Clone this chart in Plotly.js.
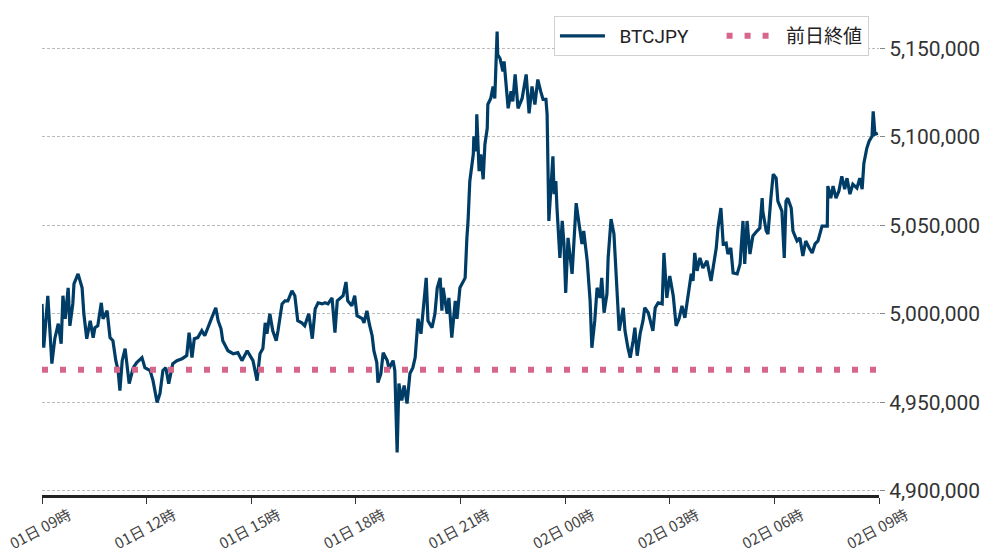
<!DOCTYPE html>
<html>
<head>
<meta charset="utf-8">
<script src="https://cdn.plot.ly/plotly-3.0.1.min.js"></script>
<style>
html,body{margin:0;padding:0;background:#fff;}
#chart{width:991px;height:558px;}
</style>
</head>
<body>
<div id="chart"></div>
<script>
// minutes elapsed since 01日 09:00
const minutes = [
0,3,10,17,22,28,33,36,40,45,48,53,55,62,69,72,77,83,88,91,96,102,105,112,117,122,127,131,134,138,143,150,157,163,172,177,186,191,198,203,208,213,218,225,232,241,249,253,258,262,268,275,280,286,292,299,303,308,311,320,329,337,344,353,360,363,370,373,
375,380,384,387,392,397,403,406,413,418,423,430,435,440,447,452,459,465,470,475,482,487,492,499,504,508,514,518,523,526,533,538,542,551,554,559,563,568,571,576,578,583,587,594,597,604,607,611,614,619,623,628,633,638,642,647,652,655,661,664,671,676,680,685,688,690,697,700,705,711,714,719,724,
728,731,733,736,740,742,743,747,748,752,755,759,762,766,767,772,776,779,783,784,788,793,795,798,802,807,810,814,819,826,833,838,843,848,853,858,862,867,869,872,876,879,881,884,886,891,895,898,901,905,912,919,924,929,932,938,943,946,951,955,960,963,967,972,974,979,984,989,993,1000,1003,1008,1012,1017,1020,1024,1029,1034,1037,1043,1051,1055,1060,1067,1070,1075,1080,1086,1091,1096,1101,1106,1111,1117,1120,
1123,1127,1132,1137,1144,1151,1154,1160,1163,1168,1172,1177,1180,1185,1189,1196,1201,1206,1209,1213,1218,1223,1230,1235,1239,1240,1246,1249,1254,1258,1263,1266,1273,1277,1280,1283,1289,1292,1299,1304,1309,1314,1320,1325,1330,1335,1342,1351,1352,1357,1361,1366,1371,1376,1381,1385,1390,1395,1402,1407,1411,1414,1419,1423,1428,1430,1433,1438
];
const prices = [
5005600,4980800,5010200,4971800,4985900,4994400,4983100,5010200,4997200,5014700,4993200,5005600,5016900,5022600,5014700,5000000,4985900,4996100,4986500,4992100,4993200,5006200,4997200,5001700,4986500,4984800,4973500,4967900,4956600,4973500,4980300,4960500,4969500,4972400,4975200,4969500,4967900,4962200,4949800,4954900,4967900,4969500,4960500,4971800,4973500,4974600,4976300,4989300,4975200,4985900,4986500,4990400,4987600,4992100,4997700,5003400,4996100,4991500,4984800,4979100,4977400,4978000,4973500,4979100,4975200,4973500,4962200,4969500,
4977400,4980300,4994900,4988700,5000000,4990400,4984800,4990400,5005600,5007300,5007300,5013000,5010200,4996100,4994900,4993200,5000000,4985900,5002800,5006200,5005600,5006200,5005600,5009000,4989300,5007300,5009000,5010200,5018000,5007300,5004500,5010200,4998900,4997200,4994900,5001700,4994400,4987600,4979100,4972400,4961100,4966200,4978000,4973500,4969000,4973500,4967900,4921600,4960500,4950900,4959400,4949200,4966200,4969500,4975200,4997200,4988700,5000000,5020300,4996100,4992100,5000000,5014700,5020300,5001700,5014700,5000000,5009000,4986500,5007300,4997200,5014700,5017500,
5020300,5042900,5052500,5075000,5086300,5090200,5100400,5091900,5112800,5080700,5090200,5076100,5095900,5104900,5118400,5121800,5128600,5121800,5159600,5146600,5144400,5137100,5142700,5129700,5116200,5125800,5120100,5135400,5116200,5121800,5135400,5113400,5128600,5118400,5132500,5125800,5121300,5121300,5112800,5052500,5075000,5089100,5067700,5075000,5059800,5031600,5052500,5039500,5011800,5042900,5022600,5062600,5050800,5039500,5046800,5029900,5007300,4980800,4996100,5014700,5009000,5020300,5000600,5011300,5031600,5053600,5045100,5018600,4990400,5003400,4990400,4980800,4975200,4984800,4992100,4976300,4988700,4996100,5003400,5000600,4990400,5003400,5006200,5005600,5034400,5009000,5021400,5010200,4993200,4997200,5004500,4997700,5008500,5022600,5018600,
5034400,5024300,5031600,5025900,5029900,5018600,5025900,5037200,5048500,5059800,5039500,5040000,5033800,5037200,5023100,5022600,5028200,5052500,5028200,5052500,5033800,5044000,5046800,5048500,5065400,5058100,5046800,5045100,5065400,5079000,5076700,5063700,5058100,5031600,5063700,5065400,5059800,5046800,5041200,5042900,5032700,5041200,5037200,5034400,5039500,5041200,5049600,5049600,5072200,5065400,5072200,5065400,5069400,5077800,5070500,5076700,5067700,5073300,5071100,5076700,5070500,5085200,5093600,5097600,5100400,5114500,5101500,5102100
];
const prevClose = 4968400;
const seriesNames = ["BTCJPY", "前日終値"];
const startTime = "2024-03-01 09:00";
const endTime = "2024-03-02 09:00";

function pad(n){return (n<10?"0":"")+n;}
function toTime(m){
  const day = 1 + Math.floor((9*60+m)/1440);
  const mm = (9*60+m) % 1440;
  return "2024-03-" + pad(day) + " " + pad(Math.floor(mm/60)) + ":" + pad(mm%60);
}
const times = minutes.map(toTime);
const gap = "\u00a0\u00a0";
const tail = "\u00a0\u00a0\u00a0\u00a0\u00a0\u00a0";

const traces = [
  {
    x: times, y: prices, type: "scatter", mode: "lines", name: gap + seriesNames[0] + tail,
    line: {color: "#003d66", width: 3.2}
  },
  {
    x: [startTime, endTime], y: [prevClose, prevClose], type: "scatter", mode: "lines", name: gap + seriesNames[1],
    line: {color: "#d6668a", width: 6, dash: "6px,12px"}
  }
];

const layout = {
  width: 991, height: 558,
  margin: {l: 42, r: 112, t: 15, b: 63},
  paper_bgcolor: "#ffffff", plot_bgcolor: "#ffffff",
  font: {family: "Roboto, 'Noto Sans CJK JP', sans-serif", color: "#333"},
  showlegend: true,
  legend: {
    orientation: "h", x: 0.988, xanchor: "right", y: 0.998, yanchor: "top",
    bgcolor: "#ffffff", bordercolor: "#d0d0d0", borderwidth: 1,
    font: {size: 19, color: "#222", family: "Roboto, 'Noto Sans CJK JP', sans-serif"},
    itemwidth: 45
  },
  xaxis: {
    type: "date",
    range: [startTime, endTime],
    tick0: startTime, dtick: 3*3600*1000,
    tickformat: "%d日 %H時",
    tickangle: -28,
    ticklabeloverflow: "allow",
    ticklabelshift: 27,
    ticklabelstandoff: -3,
    tickfont: {size: 15, color: "#444", family: "'Noto Sans CJK JP', sans-serif"},
    showgrid: false, zeroline: false,
    showline: true, linecolor: "#222", linewidth: 3,
    ticks: "outside", ticklen: 6, tickcolor: "#333", tickwidth: 1
  },
  yaxis: {
    side: "right",
    range: [4897500, 5169000],
    tickvals: [4900000, 4950000, 5000000, 5050000, 5100000, 5150000],
    tickformat: ",d",
    tickfont: {size: 21, color: "#333"},
    showgrid: true, gridcolor: "#aaaaaa", gridwidth: 0.8, griddash: "3px,2px",
    zeroline: false, showline: false,
    ticks: "outside", ticklen: 5, tickcolor: "#888", tickwidth: 1
  }
};

Plotly.newPlot("chart", traces, layout, {displayModeBar: false, staticPlot: true});
</script>
</body>
</html>
